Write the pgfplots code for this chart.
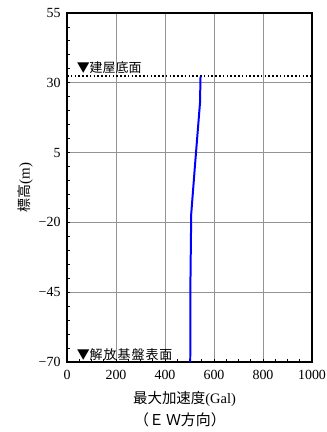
\documentclass[border=0pt]{standalone}
\usepackage{fontspec}
\setmainfont{Liberation Serif}
\newfontfamily\cjk{Noto Sans CJK JP}
\usepackage{pgfplots}
\pgfplotsset{compat=1.18}
\begin{document}
\begin{tikzpicture}[x=1bp,y=1bp]
\useasboundingbox (0,0) rectangle (327,432);
\begin{axis}[
  at={(67bp,70bp)}, anchor=south west,
  scale only axis, width=245bp, height=349bp,
  xmin=0, xmax=1000, ymin=-70, ymax=55,
  xtick={0,200,400,600,800,1000},
  xticklabels={0,200,400,600,800,1000},
  ytick={-70,-45,-20,5,30,55},
  yticklabels={−70,−45,−20,5,30,55},
  minor xtick={50,100,...,950},
  minor ytick={-65,-60,...,50},
  tick align=inside,
  major tick length=0pt,
  minor tick length=3bp,
  xtick pos=bottom, ytick pos=left,
  grid=major,
  major grid style={gray!85, line width=0.7pt},
  axis line style={black, line width=1.3pt},
  tick style={black, line width=0.9pt},
  ticklabel style={font=\fontsize{14}{14}\selectfont},
  xticklabel style={yshift=-5bp},
  yticklabel style={xshift=-3bp},
  xlabel={\cjk\fontsize{14.5}{15}\selectfont 最大加速度\rmfamily(Gal)},
  xlabel style={yshift=-5bp, xshift=-5bp},
  ylabel={\cjk\fontsize{14}{15}\selectfont 標高\rmfamily\fontsize{15}{15}\selectfont(m)},
  ylabel style={yshift=-1bp},
  clip=false,
]
\addplot[black, dash pattern=on 1.6bp off 2.2bp, line width=1.6pt] coordinates {(0,32.5) (1000,32.5)};
\addplot[blue, line width=2pt] coordinates {
(503,-70) (504,-40) (507,-17) (522,0) (543,23) (544,28) (545,32.3)};
\node[anchor=south west, inner sep=1bp, font=\cjk\fontsize{13}{14}\selectfont] at (axis cs:35,32.8) {▼建屋底面};
\node[anchor=south west, inner sep=1bp, xshift=0bp, font=\cjk\fontsize{13}{14}\selectfont] at (axis cs:35,-70) {▼解\hspace{1bp}放\hspace{1bp}基\hspace{1bp}盤\hspace{1bp}表\hspace{1bp}面};
\end{axis}
\node[font=\cjk\fontsize{15}{15}\selectfont] at (180,12) {（Ｅ\hspace{2bp}Ｗ方向）};
\end{tikzpicture}
\end{document}
